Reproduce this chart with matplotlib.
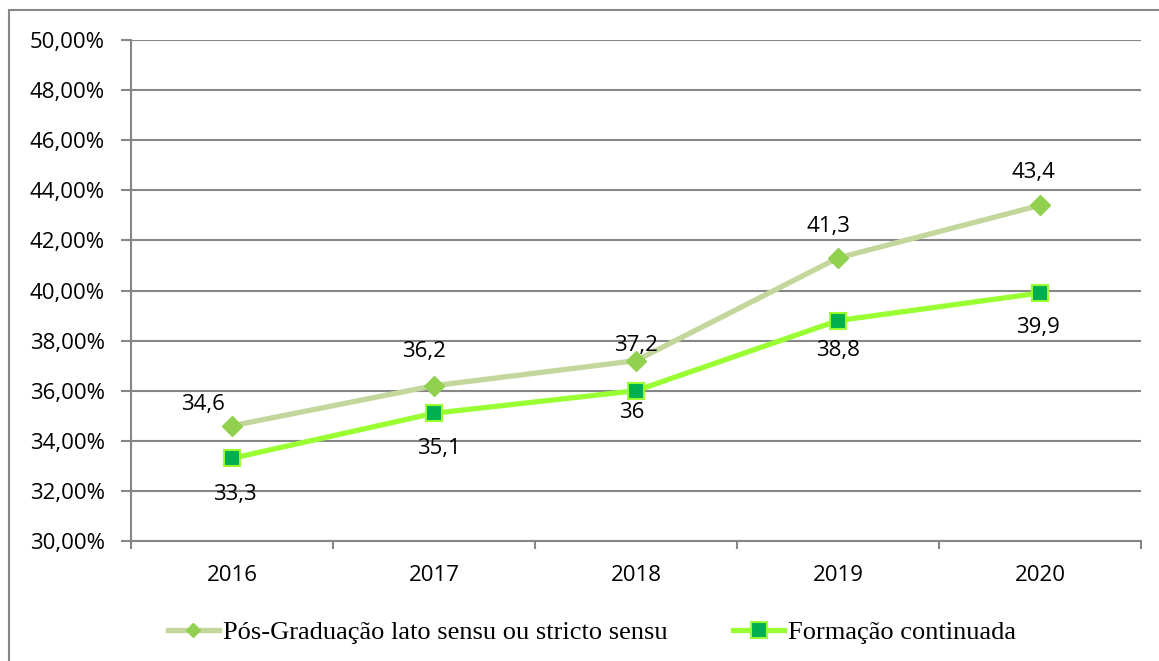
import matplotlib
matplotlib.use("Agg")
import matplotlib.pyplot as plt
from matplotlib.patches import Rectangle
from matplotlib.lines import Line2D

years = ["2016", "2017", "2018", "2019", "2020"]
pos_grad = [34.6, 36.2, 37.2, 41.3, 43.4]
formacao = [33.3, 35.1, 36.0, 38.8, 39.9]
pos_grad_labels = ["34,6", "36,2", "37,2", "41,3", "43,4"]
formacao_labels = ["33,3", "35,1", "36", "38,8", "39,9"]
series_names = ["Pós-Graduação lato sensu ou stricto sensu", "Formação continuada"]
y_ticks = [30, 32, 34, 36, 38, 40, 42, 44, 46, 48, 50]

# label offsets in pixels (style)
off1 = [(-29, 21), (-10, 34), (0, 15), (-10, 31), (-7, 33)]
off2 = [(3, -36), (5, -35), (-4, -22), (0, -30), (-2, -34)]

W, H = 1159, 661
fig = plt.figure(figsize=(W / 100, H / 100), dpi=100)
fig.patch.set_facecolor("white")

# outer frame
fig.add_artist(Rectangle((9 / W, -0.1), 1.2, 1 - 10 / H + 0.1, transform=fig.transFigure,
                         fill=False, edgecolor="#868686", linewidth=1.5))

ax = fig.add_axes([131 / W, 1 - 541 / H, (1141 - 131) / W, (541 - 40) / H])
grid_c = "#868686"
FONT = "Open Sans"
FS = 16

x = list(range(len(years)))
ax.plot(x, pos_grad, color="#C3D69B", linewidth=3.8, marker="D", markersize=10,
        markerfacecolor="#92D050", markeredgecolor="#92D050", zorder=3)
ax.plot(x, formacao, color="#99FF33", linewidth=3.8, marker="s", markersize=12,
        markerfacecolor="#00B050", markeredgecolor="#99FF33", markeredgewidth=1.5, zorder=4)

for i in x:
    ax.annotate(pos_grad_labels[i], (x[i], pos_grad[i]), xytext=off1[i], textcoords="offset pixels",
                ha="center", va="center", fontsize=FS, family=FONT, color="black")
    ax.annotate(formacao_labels[i], (x[i], formacao[i]), xytext=off2[i], textcoords="offset pixels",
                ha="center", va="center", fontsize=FS, family=FONT, color="black")

ax.set_xlim(-0.5, len(years) - 0.5)
ax.set_ylim(30, 50)
ax.set_yticks(y_ticks)
ax.set_yticklabels([f"{v:.2f}%".replace(".", ",") for v in y_ticks], fontsize=FS, family=FONT)
ax.set_xticks([i - 0.5 for i in range(len(years) + 1)])
ax.set_xticklabels([])
ax.set_xticks(x, minor=True)
ax.set_xticklabels(years, minor=True, fontsize=FS, family=FONT)
ax.tick_params(axis="x", which="minor", length=0, pad=17)
ax.tick_params(axis="x", which="major", length=6, width=1.5, color=grid_c, direction="out")
ax.tick_params(axis="y", length=7, width=1.5, color=grid_c, direction="out", pad=12)
ax.yaxis.grid(True, color=grid_c, linewidth=1.5)
ax.set_axisbelow(True)
for s in ["top", "right"]:
    ax.spines[s].set_visible(False)
for s in ["left", "bottom"]:
    ax.spines[s].set_color(grid_c)
    ax.spines[s].set_linewidth(1.5)

h1 = Line2D([], [], color="#C3D69B", linewidth=3.8, marker="D", markersize=7,
            markerfacecolor="#92D050", markeredgecolor="#92D050")
h2 = Line2D([], [], color="#99FF33", linewidth=3.8, marker="s", markersize=11,
            markerfacecolor="#00B050", markeredgecolor="#99FF33", markeredgewidth=1.5)
fig.legend([h1, h2], series_names, loc="center", bbox_to_anchor=(592 / W, 1 - 632 / H), ncol=2,
           frameon=False, prop={"family": "Liberation Serif", "size": 19},
           handlelength=1.93, handletextpad=0.15, columnspacing=2.5)

fig.savefig("out.png", dpi=100)
